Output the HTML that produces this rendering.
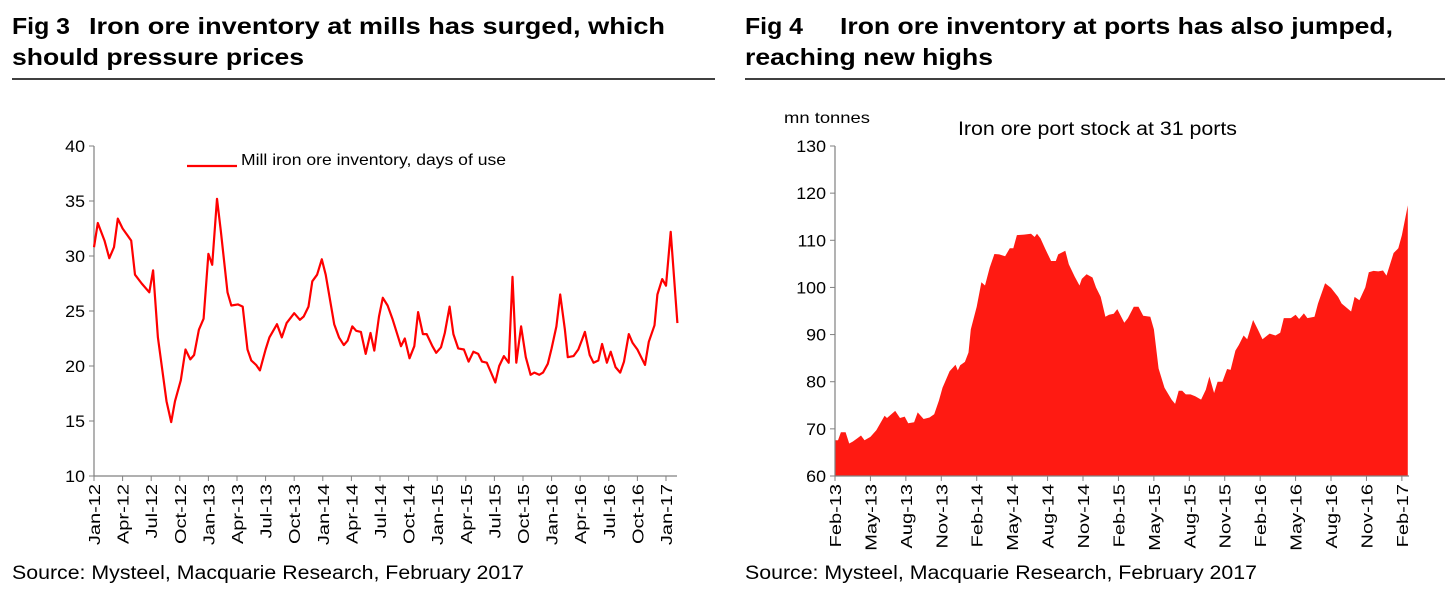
<!DOCTYPE html>
<html><head><meta charset="utf-8"><style>
body{margin:0;background:#fff;width:1453px;height:596px;overflow:hidden;font-family:"Liberation Sans",Arial,sans-serif}
svg{position:absolute;left:0;top:0}
</style></head><body>
<svg id="s" width="1453" height="596">
<g font-weight="bold" font-size="23" fill="#000">
<text x="12" y="34" textLength="58" lengthAdjust="spacingAndGlyphs">Fig 3</text>
<text x="89" y="34" textLength="576" lengthAdjust="spacingAndGlyphs">Iron ore inventory at mills has surged, which</text>
<text x="12" y="65" textLength="292" lengthAdjust="spacingAndGlyphs">should pressure prices</text></g>
<line x1="12" y1="79" x2="715" y2="79" stroke="#000" stroke-width="1.5"/>
<g font-weight="bold" font-size="23" fill="#000">
<text x="745" y="34" textLength="58" lengthAdjust="spacingAndGlyphs">Fig 4</text>
<text x="840" y="34" textLength="553" lengthAdjust="spacingAndGlyphs">Iron ore inventory at ports has also jumped,</text>
<text x="745" y="65" textLength="248" lengthAdjust="spacingAndGlyphs">reaching new highs</text></g>
<line x1="745" y1="79" x2="1445" y2="79" stroke="#000" stroke-width="1.5"/>
<text x="12" y="579" font-size="19" textLength="512" lengthAdjust="spacingAndGlyphs">Source: Mysteel, Macquarie Research, February 2017</text>
<text x="745" y="579" font-size="19" textLength="512" lengthAdjust="spacingAndGlyphs">Source: Mysteel, Macquarie Research, February 2017</text>
<g id="c1"></g><g id="c2"></g>
</svg>
<script>
// Fig 3 data: month index from Jan-12
const millMonths=[0,0.4,1.1,1.6,2.1,2.5,3.0,3.9,4.3,5.0,5.8,6.2,6.7,7.6,8.1,8.5,9.1,9.6,10.1,10.5,11.0,11.5,12.0,12.4,12.9,13.3,14.0,14.4,15.1,15.6,16.1,16.5,17.0,17.4,18.0,18.4,19.2,19.7,20.2,21.0,21.6,22.0,22.5,22.9,23.4,23.9,24.3,25.2,25.7,26.2,26.6,27.1,27.5,28.0,28.5,29.0,29.4,29.9,30.3,30.8,31.3,31.7,32.2,32.6,33.1,33.6,34.0,34.5,34.9,35.5,35.9,36.4,36.8,37.3,37.7,38.2,38.8,39.3,39.8,40.3,40.7,41.2,41.6,42.1,42.5,43.0,43.5,43.9,44.3,44.8,45.3,45.8,46.2,46.7,47.1,47.6,48.0,48.5,48.9,49.4,49.7,50.3,50.8,51.2,51.5,52.0,52.4,52.9,53.3,53.8,54.2,54.7,55.2,55.6,56.1,56.5,57.0,57.4,57.8,58.2,58.8,59.1,59.6,60.0,60.5,61.2];
const millDays=[30.8,33.0,31.4,29.8,30.8,33.4,32.5,31.4,28.3,27.5,26.7,28.7,22.6,16.8,14.9,16.8,18.7,21.5,20.6,21.0,23.3,24.3,30.2,29.2,35.2,32.3,26.7,25.5,25.6,25.4,21.5,20.5,20.1,19.6,21.5,22.6,23.8,22.6,23.9,24.8,24.2,24.5,25.4,27.7,28.3,29.7,28.3,23.8,22.6,21.9,22.3,23.6,23.2,23.1,21.1,23.0,21.4,24.5,26.2,25.5,24.3,23.2,21.8,22.5,20.7,21.8,24.9,22.9,22.9,21.8,21.2,21.7,23.0,25.4,22.9,21.6,21.5,20.4,21.3,21.1,20.4,20.3,19.5,18.5,20.0,20.9,20.3,28.1,20.3,23.6,20.8,19.2,19.4,19.2,19.4,20.2,21.6,23.6,26.5,23.3,20.8,20.9,21.5,22.4,23.1,21.0,20.3,20.5,22.0,20.3,21.3,19.9,19.4,20.4,22.9,22.1,21.5,20.8,20.1,22.2,23.7,26.5,27.9,27.3,32.2,23.9];
const millYTicks=[10,15,20,25,30,35,40];
const millXLabels=["Jan-12","Apr-12","Jul-12","Oct-12","Jan-13","Apr-13","Jul-13","Oct-13","Jan-14","Apr-14","Jul-14","Oct-14","Jan-15","Apr-15","Jul-15","Oct-15","Jan-16","Apr-16","Jul-16","Oct-16","Jan-17"];
// Fig 4 data: month index from Feb-13
const portMonths=[0,0.25,0.5,0.9,1.2,1.5,1.9,2.2,2.5,3.0,3.5,4.2,4.4,5.1,5.5,5.9,6.2,6.7,7.0,7.5,8.0,8.4,8.8,9.1,9.7,10.2,10.4,10.6,11.0,11.3,11.5,12.0,12.4,12.7,13.1,13.5,13.9,14.4,14.8,15.1,15.4,16.0,16.6,16.9,17.1,17.4,17.8,18.3,18.7,18.9,19.5,19.8,20.3,20.7,20.9,21.3,21.8,22.1,22.5,22.9,23.2,23.6,23.9,24.5,24.8,25.3,25.7,26.1,26.7,27.0,27.4,27.9,28.5,28.8,29.1,29.4,29.7,30.1,30.5,31.0,31.4,31.7,32.1,32.4,32.8,33.2,33.5,33.9,34.2,34.6,34.9,35.4,35.8,36.2,36.8,37.3,37.7,38.0,38.6,39.0,39.3,39.7,40.0,40.6,40.9,41.5,42.0,42.6,42.9,43.7,44.0,44.4,44.9,45.2,45.6,46.0,46.4,46.7,47.3,47.7,48.0,48.5];
const portStock=[67.6,67.6,69.3,69.3,66.9,67.3,68.0,68.6,67.6,68.3,69.7,72.8,72.3,73.8,72.3,72.6,71.2,71.4,73.5,72.1,72.4,73.1,76.0,78.7,82.2,83.6,82.4,83.5,84.2,86.2,91.1,95.9,101.1,100.4,104.2,107.1,107.0,106.6,108.3,108.3,111.1,111.2,111.4,110.7,111.4,110.4,108.2,105.6,105.6,107.0,107.8,104.9,102.3,100.4,101.8,102.8,102.1,100.0,98.0,93.8,94.2,94.4,95.4,92.5,93.5,95.9,95.9,94.0,93.8,91.1,82.8,78.7,76.2,75.3,78.1,78.1,77.3,77.3,76.9,76.2,78.3,81.1,77.6,80.0,80.0,82.7,82.5,86.6,87.8,89.8,89.0,93.1,91.1,89.0,90.2,89.8,90.4,93.5,93.5,94.2,93.3,94.5,93.5,93.8,96.6,100.9,99.9,98.0,96.6,94.9,98.0,97.3,100.0,103.2,103.5,103.4,103.6,102.5,107.3,108.3,111.1,117.4];
const portYTicks=[60,70,80,90,100,110,120,130];
const portXLabels=["Feb-13","May-13","Aug-13","Nov-13","Feb-14","May-14","Aug-14","Nov-14","Feb-15","May-15","Aug-15","Nov-15","Feb-16","May-16","Aug-16","Nov-16","Feb-17"];

const NS="http://www.w3.org/2000/svg";
function mk(p,t,a){const e=document.createElementNS(NS,t);for(const k in a)e.setAttribute(k,a[k]);p.appendChild(e);return e;}

function axes(g,x0,x1,yTop,yBot,yTicks,yS,xLabels,xS,step){
  const ax=mk(g,'line',{x1:x0,y1:yTop,x2:x0,y2:yBot,stroke:'#808080','stroke-width':1.2});
  
  
  const bx=mk(g,'line',{x1:x0,y1:yBot,x2:x1,y2:yBot,stroke:'#808080','stroke-width':1.2});
  
  
  yTicks.forEach(v=>{const y=yS(v);
    mk(g,'line',{x1:x0-5,y1:y,x2:x0,y2:y,stroke:'#808080'});
    const t=mk(g,'text',{x:0,y:0,'text-anchor':'end','font-size':17,transform:`translate(${x0-9},${y+6}) scale(1.05,1)`});
    t.textContent=v;
    
    
  });
  xLabels.forEach((l,i)=>{const x=xS(i*step);
    mk(g,'line',{x1:x,y1:yBot,x2:x,y2:yBot+5,stroke:'#808080'});
    const t=mk(g,'text',{x:0,y:0,'text-anchor':'end','font-size':16,transform:`translate(${x+6},${yBot+8}) rotate(-90) scale(1.25,1)`});
    t.textContent=l;
    
    
  });
}

// Fig 3
(function(){
  const g=document.getElementById('c1');
  const x0=94,yTop=146,yBot=476;
  const xS=m=>x0+m*9.533, yS=v=>yBot-(v-10)/30*(yBot-yTop);
  axes(g,x0,677,yTop,yBot,millYTicks,yS,millXLabels,xS,3);
  const d=millMonths.map((m,i)=>(i?'L':'M')+xS(m).toFixed(1)+','+yS(millDays[i]).toFixed(1)).join('');
  const p=mk(g,'path',{d:d,fill:'none',stroke:'#ff0000','stroke-width':2.2,'stroke-linejoin':'round'});
  
  
  mk(g,'line',{x1:187,y1:166,x2:237,y2:166,stroke:'#ff0000','stroke-width':2.2});
  const lt=mk(g,'text',{x:241,y:165,'font-size':16,textLength:265,lengthAdjust:'spacingAndGlyphs'});
  lt.textContent='Mill iron ore inventory, days of use';
  
  
})();

// Fig 4
(function(){
  const g=document.getElementById('c2');
  const x0=835,yTop=146,yBot=476;
  const xS=m=>x0+m*11.81, yS=v=>yBot-(v-60)/70*(yBot-yTop);
  const d='M'+xS(portMonths[0])+','+yBot+portMonths.map((m,i)=>'L'+xS(m).toFixed(1)+','+yS(portStock[i]).toFixed(1)).join('')+'L'+xS(portMonths[portMonths.length-1])+','+yBot+'Z';
  const p=mk(g,'path',{d:d,fill:'#ff1a12',stroke:'none'});
  
  
  axes(g,x0,1409,yTop,yBot,portYTicks,yS,portXLabels,xS,3);
  const u=mk(g,'text',{x:784,y:123,'font-size':16,textLength:86,lengthAdjust:'spacingAndGlyphs'});
  u.textContent='mn tonnes';
  
  
  const ct=mk(g,'text',{x:958,y:135,'font-size':19,textLength:279,lengthAdjust:'spacingAndGlyphs'});
  ct.textContent='Iron ore port stock at 31 ports';
  
  
})();
</script>
</body></html>
